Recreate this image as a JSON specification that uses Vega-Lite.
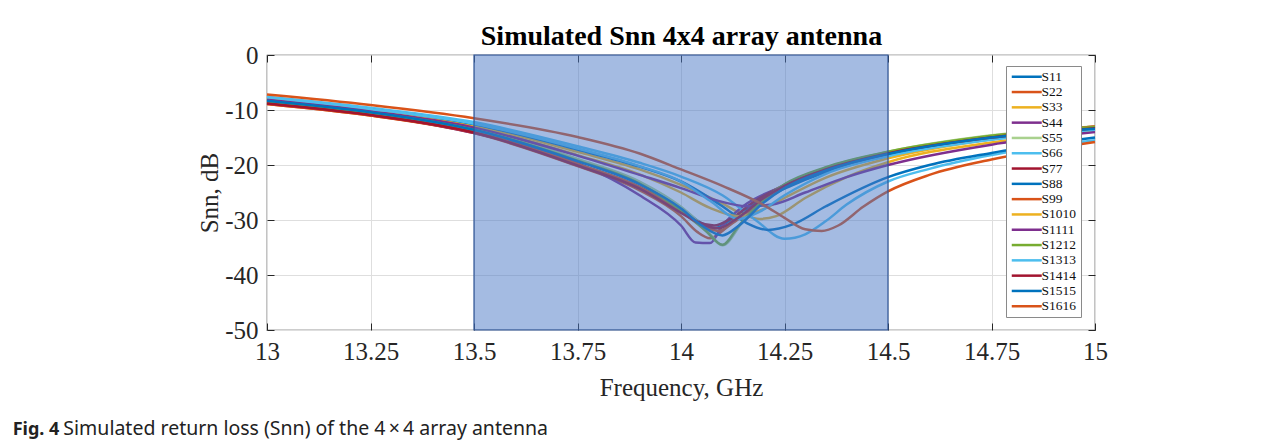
{
  "$schema": "https://vega.github.io/schema/vega-lite/v6.json",
  "width": 828,
  "height": 275,
  "autosize": {"type": "none"},
  "padding": {"left": 267, "top": 55, "right": 187, "bottom": 116},
  "background": "white",
  "title": {
    "text": "Fig. 4",
    "subtitle": "\u200b\u00a0\u00a0\u00a0\u00a0\u00a0\u00a0\u00a0\u00a0\u00a0\u00a0Simulated return loss (Snn) of the 4\u2009×\u20094 array antenna",
    "orient": "bottom",
    "anchor": "start",
    "frame": "bounds",
    "font": "Noto Sans",
    "fontSize": 18,
    "fontWeight": "bold",
    "color": "#222222",
    "subtitleFont": "Noto Sans",
    "subtitleFontSize": 19.5,
    "subtitleColor": "#222222",
    "subtitlePadding": -19,
    "offset": 21,
    "dx": -185
  },
  "config": {
    "view": {"stroke": "#3a3a3a", "strokeWidth": 1.2},
    "axis": {
      "domain": false,
      "labelFlush": false,
      "labelFont": "Liberation Serif",
      "labelFontSize": 25,
      "labelColor": "#262626",
      "titleFont": "Liberation Serif",
      "titleFontSize": 25,
      "titleFontWeight": "normal",
      "titleColor": "#262626",
      "tickColor": "#262626",
      "gridColor": "#dedede",
      "gridWidth": 1
    }
  },
  "datasets": {
    "snn": [
      {"s":"S11","f":13.0,"db":-8.2},{"s":"S11","f":13.25,"db":-10.3},{"s":"S11","f":13.5,"db":-13.5},{"s":"S11","f":13.75,"db":-19.0},{"s":"S11","f":13.9,"db":-23.3},{"s":"S11","f":14.0,"db":-27.8},{"s":"S11","f":14.05,"db":-30.6},{"s":"S11","f":14.08,"db":-31.5},{"s":"S11","f":14.12,"db":-30.0},{"s":"S11","f":14.17,"db":-27.3},{"s":"S11","f":14.25,"db":-24.3},{"s":"S11","f":14.35,"db":-21.3},{"s":"S11","f":14.5,"db":-18.3},{"s":"S11","f":14.75,"db":-15.3},{"s":"S11","f":15.0,"db":-13.5},
      {"s":"S22","f":13.0,"db":-8.9},{"s":"S22","f":13.25,"db":-11.0},{"s":"S22","f":13.5,"db":-14.2},{"s":"S22","f":13.75,"db":-20.2},{"s":"S22","f":13.9,"db":-24.6},{"s":"S22","f":14.0,"db":-29.3},{"s":"S22","f":14.04,"db":-32.2},{"s":"S22","f":14.07,"db":-33.3},{"s":"S22","f":14.1,"db":-32.0},{"s":"S22","f":14.15,"db":-28.2},{"s":"S22","f":14.25,"db":-23.6},{"s":"S22","f":14.35,"db":-20.6},{"s":"S22","f":14.5,"db":-17.7},{"s":"S22","f":14.75,"db":-14.8},{"s":"S22","f":15.0,"db":-13.0},
      {"s":"S33","f":13.0,"db":-7.8},{"s":"S33","f":13.25,"db":-9.9},{"s":"S33","f":13.5,"db":-12.8},{"s":"S33","f":13.75,"db":-17.6},{"s":"S33","f":13.9,"db":-20.8},{"s":"S33","f":14.0,"db":-23.6},{"s":"S33","f":14.1,"db":-27.0},{"s":"S33","f":14.15,"db":-29.0},{"s":"S33","f":14.19,"db":-29.8},{"s":"S33","f":14.23,"db":-29.3},{"s":"S33","f":14.3,"db":-26.0},{"s":"S33","f":14.4,"db":-22.2},{"s":"S33","f":14.5,"db":-19.5},{"s":"S33","f":14.75,"db":-15.9},{"s":"S33","f":15.0,"db":-13.8},
      {"s":"S44","f":13.0,"db":-8.6},{"s":"S44","f":13.25,"db":-10.8},{"s":"S44","f":13.5,"db":-14.2},{"s":"S44","f":13.75,"db":-19.6},{"s":"S44","f":13.9,"db":-25.5},{"s":"S44","f":14.0,"db":-31.0},{"s":"S44","f":14.035,"db":-34.1},{"s":"S44","f":14.07,"db":-34.2},{"s":"S44","f":14.1,"db":-31.0},{"s":"S44","f":14.15,"db":-27.5},{"s":"S44","f":14.25,"db":-23.8},{"s":"S44","f":14.35,"db":-20.9},{"s":"S44","f":14.5,"db":-18.0},{"s":"S44","f":14.75,"db":-15.0},{"s":"S44","f":15.0,"db":-13.3},
      {"s":"S55","f":13.0,"db":-8.3},{"s":"S55","f":13.25,"db":-10.4},{"s":"S55","f":13.5,"db":-13.4},{"s":"S55","f":13.75,"db":-18.9},{"s":"S55","f":13.9,"db":-23.0},{"s":"S55","f":14.0,"db":-27.6},{"s":"S55","f":14.06,"db":-31.6},{"s":"S55","f":14.1,"db":-34.6},{"s":"S55","f":14.15,"db":-30.2},{"s":"S55","f":14.2,"db":-26.0},{"s":"S55","f":14.25,"db":-23.6},{"s":"S55","f":14.35,"db":-20.5},{"s":"S55","f":14.5,"db":-17.6},{"s":"S55","f":14.75,"db":-14.6},{"s":"S55","f":15.0,"db":-13.0},
      {"s":"S66","f":13.0,"db":-7.6},{"s":"S66","f":13.25,"db":-9.6},{"s":"S66","f":13.5,"db":-12.2},{"s":"S66","f":13.75,"db":-16.6},{"s":"S66","f":13.9,"db":-19.6},{"s":"S66","f":14.0,"db":-22.1},{"s":"S66","f":14.1,"db":-25.5},{"s":"S66","f":14.18,"db":-30.0},{"s":"S66","f":14.25,"db":-33.4},{"s":"S66","f":14.3,"db":-32.6},{"s":"S66","f":14.35,"db":-30.2},{"s":"S66","f":14.4,"db":-27.2},{"s":"S66","f":14.5,"db":-23.0},{"s":"S66","f":14.6,"db":-20.7},{"s":"S66","f":14.75,"db":-18.2},{"s":"S66","f":15.0,"db":-15.5},
      {"s":"S77","f":13.0,"db":-8.7},{"s":"S77","f":13.25,"db":-10.8},{"s":"S77","f":13.5,"db":-14.0},{"s":"S77","f":13.75,"db":-19.9},{"s":"S77","f":13.9,"db":-24.0},{"s":"S77","f":14.0,"db":-28.2},{"s":"S77","f":14.04,"db":-30.3},{"s":"S77","f":14.08,"db":-31.0},{"s":"S77","f":14.12,"db":-29.8},{"s":"S77","f":14.18,"db":-26.5},{"s":"S77","f":14.25,"db":-23.7},{"s":"S77","f":14.35,"db":-20.7},{"s":"S77","f":14.5,"db":-17.8},{"s":"S77","f":14.75,"db":-14.9},{"s":"S77","f":15.0,"db":-13.2},
      {"s":"S88","f":13.0,"db":-7.9},{"s":"S88","f":13.25,"db":-9.9},{"s":"S88","f":13.5,"db":-12.6},{"s":"S88","f":13.75,"db":-17.2},{"s":"S88","f":13.9,"db":-20.3},{"s":"S88","f":14.0,"db":-23.0},{"s":"S88","f":14.1,"db":-27.5},{"s":"S88","f":14.16,"db":-30.6},{"s":"S88","f":14.21,"db":-31.8},{"s":"S88","f":14.27,"db":-30.8},{"s":"S88","f":14.35,"db":-27.5},{"s":"S88","f":14.5,"db":-22.2},{"s":"S88","f":14.6,"db":-20.0},{"s":"S88","f":14.75,"db":-17.8},{"s":"S88","f":15.0,"db":-15.0},
      {"s":"S99","f":13.0,"db":-8.9},{"s":"S99","f":13.25,"db":-11.0},{"s":"S99","f":13.5,"db":-14.1},{"s":"S99","f":13.75,"db":-19.8},{"s":"S99","f":13.9,"db":-24.0},{"s":"S99","f":14.0,"db":-28.4},{"s":"S99","f":14.05,"db":-31.0},{"s":"S99","f":14.09,"db":-32.0},{"s":"S99","f":14.13,"db":-30.3},{"s":"S99","f":14.2,"db":-26.3},{"s":"S99","f":14.25,"db":-24.0},{"s":"S99","f":14.35,"db":-20.8},{"s":"S99","f":14.5,"db":-17.8},{"s":"S99","f":14.75,"db":-14.8},{"s":"S99","f":15.0,"db":-13.0},
      {"s":"S1010","f":13.0,"db":-8.0},{"s":"S1010","f":13.25,"db":-10.1},{"s":"S1010","f":13.5,"db":-13.1},{"s":"S1010","f":13.75,"db":-18.2},{"s":"S1010","f":13.9,"db":-21.7},{"s":"S1010","f":14.0,"db":-25.0},{"s":"S1010","f":14.07,"db":-27.8},{"s":"S1010","f":14.14,"db":-29.3},{"s":"S1010","f":14.2,"db":-28.0},{"s":"S1010","f":14.25,"db":-26.0},{"s":"S1010","f":14.35,"db":-22.3},{"s":"S1010","f":14.5,"db":-18.8},{"s":"S1010","f":14.75,"db":-15.3},{"s":"S1010","f":15.0,"db":-13.4},
      {"s":"S1111","f":13.0,"db":-8.1},{"s":"S1111","f":13.25,"db":-10.2},{"s":"S1111","f":13.5,"db":-13.2},{"s":"S1111","f":13.75,"db":-18.3},{"s":"S1111","f":13.9,"db":-21.8},{"s":"S1111","f":14.0,"db":-24.2},{"s":"S1111","f":14.08,"db":-26.3},{"s":"S1111","f":14.16,"db":-27.5},{"s":"S1111","f":14.22,"db":-27.2},{"s":"S1111","f":14.3,"db":-25.0},{"s":"S1111","f":14.4,"db":-22.2},{"s":"S1111","f":14.5,"db":-20.0},{"s":"S1111","f":14.75,"db":-16.3},{"s":"S1111","f":15.0,"db":-14.0},
      {"s":"S1212","f":13.0,"db":-8.4},{"s":"S1212","f":13.25,"db":-10.5},{"s":"S1212","f":13.5,"db":-13.6},{"s":"S1212","f":13.75,"db":-19.2},{"s":"S1212","f":13.9,"db":-23.4},{"s":"S1212","f":14.0,"db":-28.3},{"s":"S1212","f":14.06,"db":-32.0},{"s":"S1212","f":14.1,"db":-34.5},{"s":"S1212","f":14.14,"db":-31.0},{"s":"S1212","f":14.2,"db":-26.3},{"s":"S1212","f":14.25,"db":-23.5},{"s":"S1212","f":14.35,"db":-20.4},{"s":"S1212","f":14.5,"db":-17.6},{"s":"S1212","f":14.75,"db":-14.7},{"s":"S1212","f":15.0,"db":-13.1},
      {"s":"S1313","f":13.0,"db":-7.7},{"s":"S1313","f":13.25,"db":-9.8},{"s":"S1313","f":13.5,"db":-12.5},{"s":"S1313","f":13.75,"db":-17.0},{"s":"S1313","f":13.9,"db":-20.2},{"s":"S1313","f":14.0,"db":-23.0},{"s":"S1313","f":14.07,"db":-26.5},{"s":"S1313","f":14.14,"db":-29.8},{"s":"S1313","f":14.19,"db":-28.5},{"s":"S1313","f":14.25,"db":-25.5},{"s":"S1313","f":14.35,"db":-21.6},{"s":"S1313","f":14.5,"db":-18.4},{"s":"S1313","f":14.75,"db":-15.4},{"s":"S1313","f":15.0,"db":-13.6},
      {"s":"S1414","f":13.0,"db":-8.8},{"s":"S1414","f":13.25,"db":-10.9},{"s":"S1414","f":13.5,"db":-14.1},{"s":"S1414","f":13.75,"db":-20.1},{"s":"S1414","f":13.9,"db":-24.3},{"s":"S1414","f":14.0,"db":-28.7},{"s":"S1414","f":14.05,"db":-30.8},{"s":"S1414","f":14.09,"db":-31.5},{"s":"S1414","f":14.13,"db":-30.0},{"s":"S1414","f":14.2,"db":-26.0},{"s":"S1414","f":14.25,"db":-23.8},{"s":"S1414","f":14.35,"db":-20.8},{"s":"S1414","f":14.5,"db":-17.9},{"s":"S1414","f":14.75,"db":-15.0},{"s":"S1414","f":15.0,"db":-13.3},
      {"s":"S1515","f":13.0,"db":-8.3},{"s":"S1515","f":13.25,"db":-10.4},{"s":"S1515","f":13.5,"db":-13.6},{"s":"S1515","f":13.75,"db":-19.3},{"s":"S1515","f":13.9,"db":-23.5},{"s":"S1515","f":14.0,"db":-27.9},{"s":"S1515","f":14.05,"db":-31.0},{"s":"S1515","f":14.1,"db":-32.8},{"s":"S1515","f":14.14,"db":-31.0},{"s":"S1515","f":14.2,"db":-26.8},{"s":"S1515","f":14.25,"db":-24.2},{"s":"S1515","f":14.35,"db":-21.0},{"s":"S1515","f":14.5,"db":-18.0},{"s":"S1515","f":14.75,"db":-15.0},{"s":"S1515","f":15.0,"db":-13.4},
      {"s":"S1616","f":13.0,"db":-7.2},{"s":"S1616","f":13.25,"db":-9.1},{"s":"S1616","f":13.5,"db":-11.5},{"s":"S1616","f":13.75,"db":-14.9},{"s":"S1616","f":13.9,"db":-17.9},{"s":"S1616","f":14.0,"db":-20.8},{"s":"S1616","f":14.1,"db":-23.8},{"s":"S1616","f":14.2,"db":-27.3},{"s":"S1616","f":14.25,"db":-29.6},{"s":"S1616","f":14.3,"db":-31.7},{"s":"S1616","f":14.34,"db":-32.0},{"s":"S1616","f":14.38,"db":-31.0},{"s":"S1616","f":14.44,"db":-27.6},{"s":"S1616","f":14.5,"db":-24.8},{"s":"S1616","f":14.6,"db":-21.8},{"s":"S1616","f":14.75,"db":-19.0},{"s":"S1616","f":15.0,"db":-15.8}
    ]
  },
  "layer": [
    {
      "data": {"name": "snn"},
      "mark": {"type": "line", "interpolate": "monotone", "strokeWidth": 2.5},
      "encoding": {
        "x": {
          "field": "f", "type": "quantitative",
          "scale": {"domain": [13, 15], "nice": false, "zero": false},
          "axis": {
            "orient": "bottom",
            "values": [13, 13.25, 13.5, 13.75, 14, 14.25, 14.5, 14.75, 15],
            "labelExpr": "'' + datum.value",
            "title": "Frequency, GHz",
            "grid": true,
            "tickSize": -7,
            "labelPadding": 16,
            "titlePadding": 11
          }
        },
        "y": {
          "field": "db", "type": "quantitative",
          "scale": {"domain": [-50, 0], "nice": false},
          "axis": {
            "orient": "left",
            "values": [-50, -40, -30, -20, -10, 0],
            "labelExpr": "'' + datum.value",
            "title": "Snn, dB",
            "grid": true,
            "tickSize": -7,
            "labelPadding": 16,
            "titlePadding": 2
          }
        },
        "color": {
          "field": "s", "type": "nominal",
          "scale": {
            "domain": ["S11","S22","S33","S44","S55","S66","S77","S88","S99","S1010","S1111","S1212","S1313","S1414","S1515","S1616"],
            "range": ["#0072BD","#D95319","#EDB120","#7E2F8E","#A9D18E","#4DBEEE","#A2142F","#0072BD","#D95319","#EDB120","#7E2F8E","#77AC30","#4DBEEE","#A2142F","#0072BD","#D95319"]
          },
          "legend": {
            "title": null,
            "orient": "none",
            "legendX": 739,
            "legendY": 11,
            "fillColor": "white",
            "strokeColor": "#8a8a8a",
            "padding": 4,
            "symbolType": "M-3,0H3",
            "symbolSize": 100,
            "symbolOffset": 10,
            "symbolStrokeWidth": 2.5,
            "labelFont": "Liberation Serif",
            "labelFontSize": 13.5,
            "labelColor": "#111111",
            "labelOffset": 8,
            "rowPadding": 0.3
          }
        }
      }
    },
    {
      "data": {"values": [{"f0": 13.5, "f1": 14.5}]},
      "mark": {"type": "rect", "fill": "#4a78c6", "fillOpacity": 0.5, "stroke": "#2f5597", "strokeWidth": 1.2},
      "encoding": {
        "x": {
          "field": "f0", "type": "quantitative",
          "axis": {
            "orient": "top",
            "values": [13, 13.25, 13.5, 13.75, 14, 14.25, 14.5, 14.75, 15],
            "labels": false,
            "grid": false,
            "tickSize": -7,
            "title": "Simulated Snn 4x4 array antenna",
            "titleFontWeight": "bold",
            "titleFontSize": 28,
            "titleColor": "#000000",
            "titlePadding": 4
          }
        },
        "x2": {"field": "f1"},
        "y": {
          "datum": -50, "type": "quantitative",
          "axis": {
            "orient": "right",
            "values": [-50, -40, -30, -20, -10, 0],
            "labels": false,
            "grid": false,
            "tickSize": -7,
            "title": null
          }
        },
        "y2": {"datum": 0}
      }
    }
  ],
  "resolve": {"axis": {"x": "independent", "y": "independent"}}
}
